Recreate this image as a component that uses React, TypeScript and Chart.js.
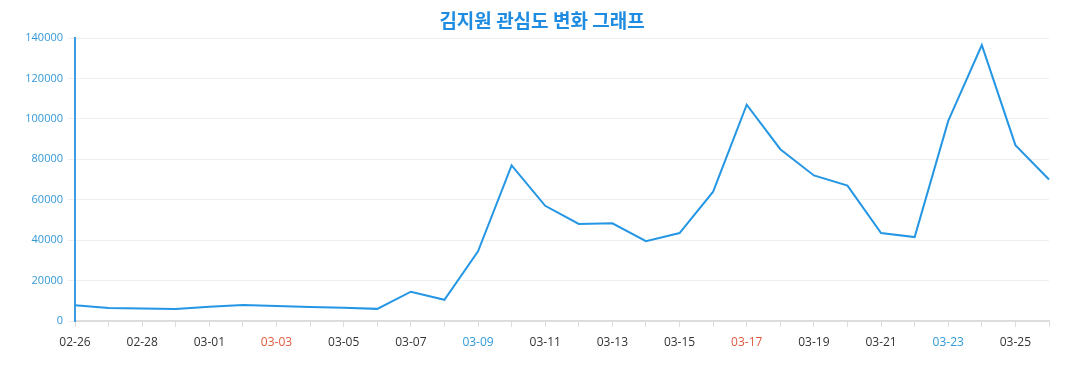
import React, { useEffect, useRef } from "react";
import { Chart, registerables } from "chart.js";

Chart.register(...registerables);

const dates = [
  "02-26", "02-27", "02-28", "02-29", "03-01", "03-02", "03-03", "03-04", "03-05", "03-06",
  "03-07", "03-08", "03-09", "03-10", "03-11", "03-12", "03-13", "03-14", "03-15", "03-16",
  "03-17", "03-18", "03-19", "03-20", "03-21", "03-22", "03-23", "03-24", "03-25", "03-26",
];
const interest = [
  7800, 6400, 6200, 5900, 7000, 7900, 7400, 6900, 6500, 6000,
  14500, 10500, 34500, 77000, 57000, 48000, 48300, 39500, 43500, 64000,
  107000, 85000, 72000, 67000, 43500, 41500, 99000, 136500, 87000, 70000,
];
const redDates = ["03-03", "03-17"];
const blueDates = ["03-09", "03-23"];
const yTicks = [0, 20000, 40000, 60000, 80000, 100000, 120000, 140000];
const titleText = "김지원 관심도 변화 그래프";

const titlePlugin = {
  id: "customTitle",
  afterDraw(chart: any) {
    const c = chart.ctx;
    c.save();
    c.font = "bold 19px 'Noto Sans CJK KR'";
    c.fillStyle = "rgb(30,140,225)";
    c.textAlign = "center";
    c.textBaseline = "middle";
    c.fillText(titleText, 542, 21);
    c.restore();
  },
};

export default function App() {
  const ref = useRef<HTMLCanvasElement>(null);
  useEffect(() => {
    document.body.style.margin = "0";
    const ctx = ref.current!;
    const chart = new Chart(ctx, {
      type: "line",
      data: {
        labels: dates,
        datasets: [
          {
            data: interest,
            borderColor: "rgb(36,150,228)",
            borderWidth: 2,
            pointRadius: 0,
            tension: 0,
            fill: false,
          },
        ],
      },
      plugins: [titlePlugin],
      options: {
        animation: false,
        responsive: false,
        layout: { padding: { left: 0, right: 28, top: 38, bottom: 0 } },
        plugins: {
          legend: { display: false },
          tooltip: { enabled: false },
          title: { display: false },
        },
        scales: {
          x: {
            offset: false,
            grid: { display: true, drawOnChartArea: false, drawTicks: true, tickLength: 6, color: "#dddddd" },
            border: { display: true, color: "#dddddd", width: 2 },
            ticks: {
              autoSkip: false,
              maxRotation: 0,
              minRotation: 0,
              padding: 8,
              font: { family: "'Open Sans'", size: 12 },
              color: (c: any) => {
                const l = dates[c.index];
                if (redDates.includes(l)) return "#e05a3f";
                if (blueDates.includes(l)) return "#2e9bd8";
                return "#333333";
              },
              callback: (_v: any, i: number) => (i % 2 === 0 ? dates[i] : ""),
            },
            afterFit: (s: any) => {
              s.height = 69;
            },
          },
          y: {
            min: 0,
            max: 140000,
            afterBuildTicks: (s: any) => {
              s.ticks = yTicks.map((v) => ({ value: v }));
            },
            grid: { color: "#efefef", tickLength: 7, drawTicks: true },
            border: { display: true, color: "rgb(60,155,225)", width: 2 },
            ticks: {
              padding: 5,
              font: { family: "'Open Sans'", size: 11 },
              color: "rgb(52,152,215)",
              callback: (v: any) => String(v),
            },
            afterFit: (s: any) => {
              s.width = 75;
            },
          },
        },
      },
    });
    return () => chart.destroy();
  }, []);
  return <canvas ref={ref} width={1077} height={390} style={{ display: "block" }} />;
}
